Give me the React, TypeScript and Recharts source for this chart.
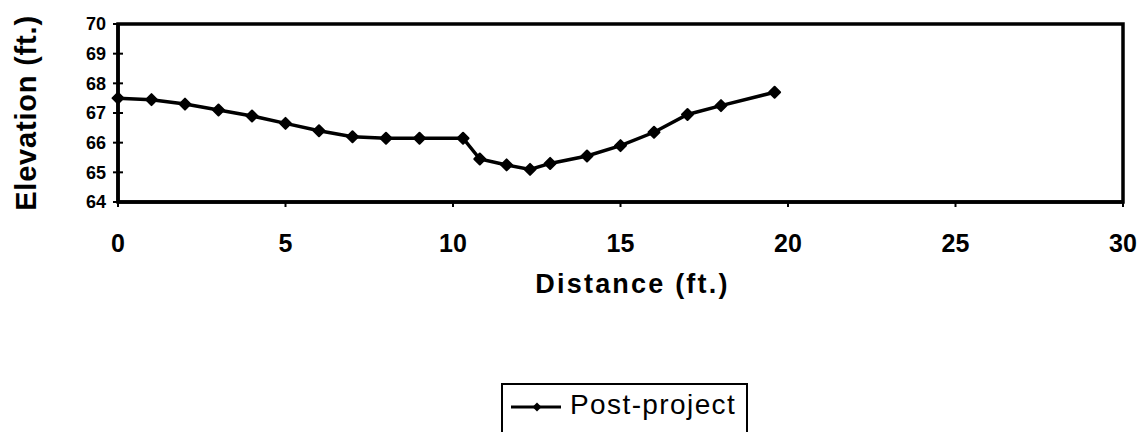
import { Legend, Line, LineChart, ReferenceArea, XAxis, YAxis } from "recharts";

const distance = [0, 1, 2, 3, 4, 5, 6, 7, 8, 9, 10.3, 10.8, 11.6, 12.3, 12.9, 14, 15, 16, 17, 18, 19.6];
const elevation = [
  67.5, 67.45, 67.3, 67.1, 66.9, 66.65, 66.4, 66.2, 66.15, 66.15, 66.15,
  65.45, 65.25, 65.1, 65.3, 65.55, 65.9, 66.35, 66.95, 67.25, 67.7,
];
const xTicks = [0, 5, 10, 15, 20, 25, 30];
const yTicks = [64, 65, 66, 67, 68, 69, 70];
const seriesName = "Post-project";

const data = distance.map((d, i) => ({ distance: d, elevation: elevation[i] }));

const FONT = "'Liberation Sans', Arial, sans-serif";

function Diamond(props: any) {
  const { cx, cy } = props;
  if (cx == null || cy == null) return null;
  const r = 5.5;
  return (
    <polygon
      points={`${cx},${cy - r} ${cx + r},${cy} ${cx},${cy + r} ${cx - r},${cy}`}
      fill="#000"
      stroke="#000"
      strokeWidth={2}
      strokeLinejoin="round"
    />
  );
}

function YTick(props: any) {
  const { x, y, payload } = props;
  return (
    <g>
      <line x1={x - 5} x2={x + 5} y1={y} y2={y} stroke="#000" strokeWidth={2} />
      <text
        x={x - 12}
        y={y}
        dy="0.35em"
        textAnchor="end"
        fontFamily={FONT}
        fontWeight="bold"
        fontSize={18}
        fill="#000"
      >
        {payload.value}
      </text>
    </g>
  );
}

function LegendBox() {
  return (
    <div
      style={{
        width: 247,
        height: 56,
        border: "2px solid #000",
        boxSizing: "border-box",
        background: "#fff",
        position: "relative",
      }}
    >
      <svg width={56} height={40} style={{ position: "absolute", left: 6, top: 2 }}>
        <line x1={2} x2={52} y1={20} y2={20} stroke="#000" strokeWidth={3} />
        <polygon points="28,15.5 32.5,20 28,24.5 23.5,20" fill="#000" />
      </svg>
      <span
        style={{
          position: "absolute",
          left: 67,
          top: 4,
          fontFamily: FONT,
          fontSize: 28,
          letterSpacing: 1.4,
          color: "#000",
          whiteSpace: "nowrap",
        }}
      >
        {seriesName}
      </span>
    </div>
  );
}

export default function App() {
  return (
    <div
      style={{
        position: "absolute",
        left: 0,
        top: 0,
        width: 1143,
        height: 432,
        overflow: "hidden",
        background: "#fff",
      }}
    >
      <LineChart
        width={1143}
        height={432}
        data={data}
        margin={{ top: 24, right: 20, bottom: 170, left: 58 }}
      >
        <XAxis
          dataKey="distance"
          type="number"
          domain={[0, 30]}
          ticks={xTicks}
          height={60}
          axisLine={{ stroke: "#000", strokeWidth: 3.5 }}
          tickLine={{ stroke: "#000", strokeWidth: 2 }}
          tickSize={5}
          tickMargin={27}
          tick={{ fill: "#000", fontFamily: FONT, fontWeight: "bold", fontSize: 25 }}
          label={(p: any) => {
            const vb = p.viewBox;
            return (
              <text
                x={vb.x + vb.width / 2 + 12}
                y={293}
                textAnchor="middle"
                fontFamily={FONT}
                fontWeight="bold"
                fontSize={27}
                letterSpacing={2.2}
                fill="#000"
              >
                Distance (ft.)
              </text>
            );
          }}
        />
        <YAxis
          type="number"
          domain={[64, 70]}
          ticks={yTicks}
          width={60}
          axisLine={{ stroke: "#000", strokeWidth: 3.5 }}
          tickLine={false}
          tickSize={0}
          tickMargin={0}
          tick={<YTick />}
          label={(p: any) => {
            const vb = p.viewBox;
            const cy = vb.y + vb.height / 2;
            return (
              <text
                x={36}
                y={cy}
                transform={`rotate(-90, 36, ${cy})`}
                textAnchor="middle"
                fontFamily={FONT}
                fontWeight="bold"
                fontSize={29}
                letterSpacing={0.8}
                fill="#000"
              >
                Elevation (ft.)
              </text>
            );
          }}
        />
        <ReferenceArea
          x1={0}
          x2={30}
          y1={64}
          y2={70}
          fill="none"
          stroke="#000"
          strokeWidth={3.5}
          ifOverflow="visible"
        />
        <Line
          type="linear"
          dataKey="elevation"
          name={seriesName}
          stroke="#000"
          strokeWidth={3.5}
          dot={<Diamond />}
          activeDot={false}
          isAnimationActive={false}
        />
        <Legend
          layout="horizontal"
          verticalAlign="middle"
          align="center"
          wrapperStyle={{ position: "absolute", left: 501, top: 383, width: 247 }}
          content={() => <LegendBox />}
        />
      </LineChart>
    </div>
  );
}
